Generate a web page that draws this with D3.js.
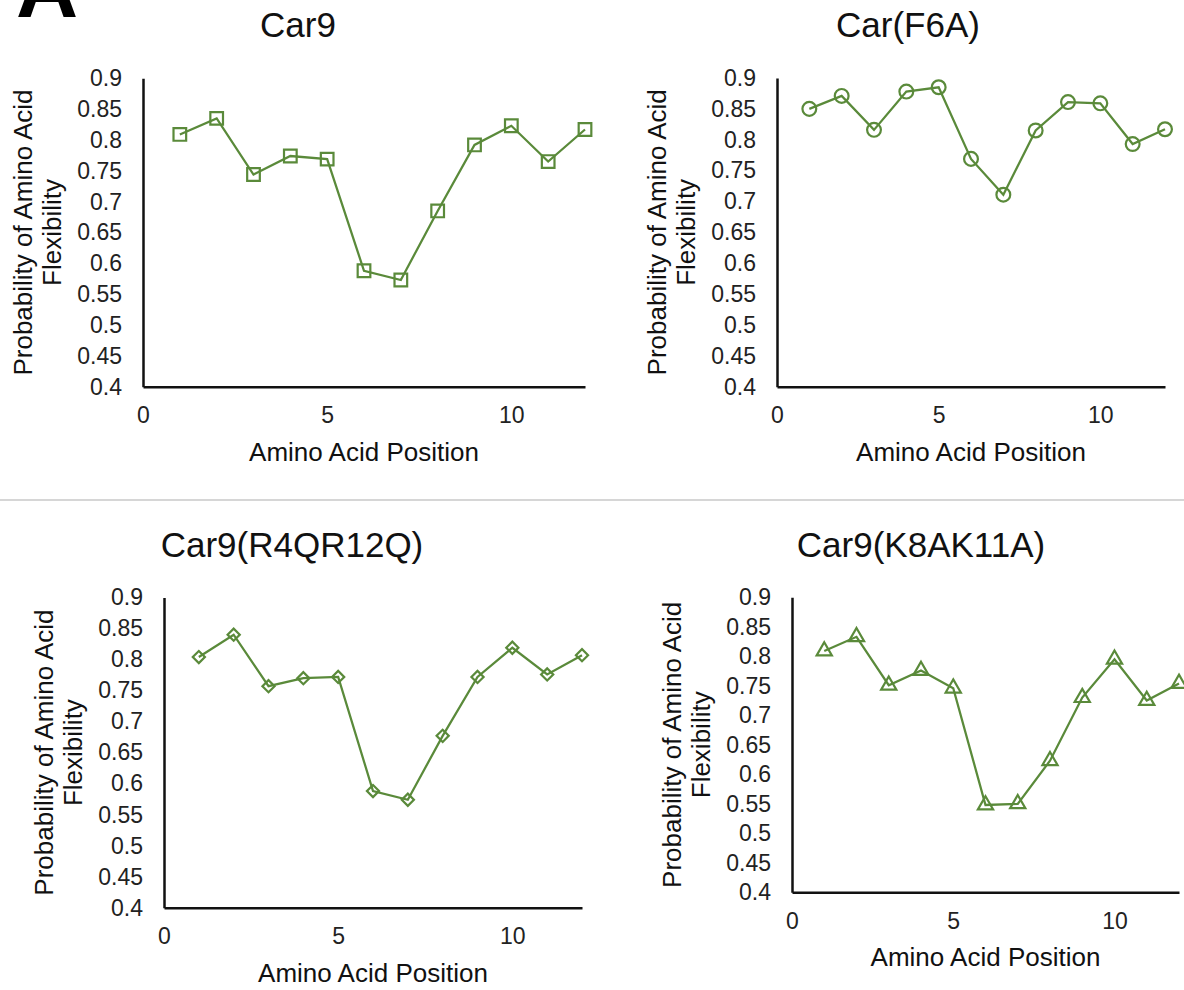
<!DOCTYPE html>
<html>
<head>
<meta charset="utf-8">
<script src="https://cdn.jsdelivr.net/npm/d3@7"></script>
<style>
  html, body { margin: 0; padding: 0; background: #fff; }
  svg { display: block; }
  text { font-family: "Liberation Sans", Arial, Helvetica, sans-serif; }
</style>
</head>
<body>
<svg id="chart" width="1184" height="990"></svg>
<script>
// ---------- data ----------
const positions = [1, 2, 3, 4, 5, 6, 7, 8, 9, 10, 11, 12];
const car9        = [0.809, 0.835, 0.744, 0.774, 0.769, 0.588, 0.573, 0.685, 0.792, 0.823, 0.765, 0.817];
const carF6A      = [0.850, 0.871, 0.816, 0.878, 0.885, 0.769, 0.711, 0.815, 0.861, 0.859, 0.793, 0.817];
const car9R4QR12Q = [0.804, 0.840, 0.757, 0.770, 0.772, 0.588, 0.574, 0.677, 0.772, 0.819, 0.776, 0.807];
const car9K8AK11A = [0.809, 0.833, 0.751, 0.776, 0.746, 0.548, 0.550, 0.623, 0.730, 0.795, 0.725, 0.754];
const panelTitles = ["Car9", "Car(F6A)", "Car9(R4QR12Q)", "Car9(K8AK11A)"];
const yTicks = [0.4, 0.45, 0.5, 0.55, 0.6, 0.65, 0.7, 0.75, 0.8, 0.85, 0.9];
const xTicks = [0, 5, 10];
const xDomain = [0, 12];
const yDomain = [0.4, 0.9];
const xAxisTitle = "Amino Acid Position";
const yAxisTitleLines = ["Probability of Amino Acid", "Flexibility"];
const panelLetter = "A";

// ---------- layout ----------
const green = "#5a8a3a";
const layout = [
  { series: car9,        marker: "square",   x0: 143, x1: 585,  yTop: 78.3,  yBot: 386.7, tx: 298, ty: 37 },
  { series: carF6A,      marker: "circle",   x0: 777, x1: 1165, yTop: 78.0,  yBot: 386.7, tx: 908, ty: 37 },
  { series: car9R4QR12Q, marker: "diamond",  x0: 164, x1: 582,  yTop: 597.5, yBot: 907.7, tx: 292, ty: 557 },
  { series: car9K8AK11A, marker: "triangle", x0: 792, x1: 1179, yTop: 597.3, yBot: 892.3, tx: 921, ty: 557 }
];

const svg = d3.select("#chart");

// panel letter (mostly cropped at the top, as in the original figure)
svg.append("text")
  .attr("x", 16).attr("y", 17)
  .attr("font-size", 86).attr("font-weight", "bold")
  .attr("fill", "#000")
  .text(panelLetter);

// divider
svg.append("line")
  .attr("x1", 0).attr("x2", 1184).attr("y1", 500).attr("y2", 500)
  .attr("stroke", "#c8c8c8").attr("stroke-width", 1.5);

const symbolFor = {
  square:   d3.symbol().type(d3.symbolSquare).size(160),
  circle:   d3.symbol().type(d3.symbolCircle).size(150),
  diamond:  d3.symbol().type(d3.symbolSquare).size(74),
  triangle: d3.symbol().type(d3.symbolTriangle).size(100)
};

const fmt = v => String(+v.toFixed(2));

layout.forEach((p, i) => {
  const x = d3.scaleLinear().domain(xDomain).range([p.x0, p.x1]);
  const y = d3.scaleLinear().domain(yDomain).range([p.yBot, p.yTop]);
  const g = svg.append("g");

  // title
  g.append("text")
    .attr("x", p.tx).attr("y", p.ty)
    .attr("text-anchor", "middle")
    .attr("font-size", 35)
    .attr("fill", "#111")
    .text(panelTitles[i]);

  // y axis
  const ya = g.append("g")
    .attr("transform", `translate(${p.x0},0)`)
    .call(d3.axisLeft(y).tickValues(yTicks).tickFormat(fmt).tickSize(0).tickSizeOuter(0).tickPadding(21));
  ya.select(".domain").attr("stroke", "#111").attr("stroke-width", 2.5);
  ya.selectAll("text").attr("font-size", 23).attr("fill", "#222")
    .style("font-family", '"Liberation Sans", Arial, sans-serif');

  // x axis
  const xa = g.append("g")
    .attr("transform", `translate(0,${p.yBot})`)
    .call(d3.axisBottom(x).tickValues(xTicks).tickFormat(d3.format("d")).tickSize(0).tickSizeOuter(0).tickPadding(20));
  xa.select(".domain").attr("stroke", "#111").attr("stroke-width", 2.5);
  xa.selectAll("text").attr("font-size", 23).attr("fill", "#222")
    .style("font-family", '"Liberation Sans", Arial, sans-serif');

  // x axis title
  g.append("text")
    .attr("x", (p.x0 + p.x1) / 2).attr("y", p.yBot + 74)
    .attr("text-anchor", "middle")
    .attr("font-size", 26)
    .attr("fill", "#111")
    .text(xAxisTitle);

  // y axis title (two lines, rotated)
  const yc = (p.yTop + p.yBot) / 2;
  yAxisTitleLines.forEach((line, k) => {
    const lx = p.x0 - 120 + k * 29;
    g.append("text")
      .attr("transform", `translate(${lx},${yc}) rotate(-90)`)
      .attr("text-anchor", "middle")
      .attr("dy", "0.35em")
      .attr("font-size", 26)
      .attr("fill", "#111")
      .text(line);
  });

  // line
  const pts = positions.map((pos, j) => [pos, p.series[j]]);
  g.append("path")
    .datum(pts)
    .attr("fill", "none")
    .attr("stroke", green)
    .attr("stroke-width", 2.25)
    .attr("d", d3.line().x(d => x(d[0])).y(d => y(d[1])));

  // markers
  g.selectAll(".mk")
    .data(pts)
    .join("path")
    .attr("class", "mk")
    .attr("transform", d => `translate(${x(d[0])},${y(d[1])})` + (p.marker === "diamond" ? " rotate(45)" : ""))
    .attr("d", symbolFor[p.marker])
    .attr("fill", "none")
    .attr("stroke", green)
    .attr("stroke-width", 2.2);
});
</script>
</body>
</html>
